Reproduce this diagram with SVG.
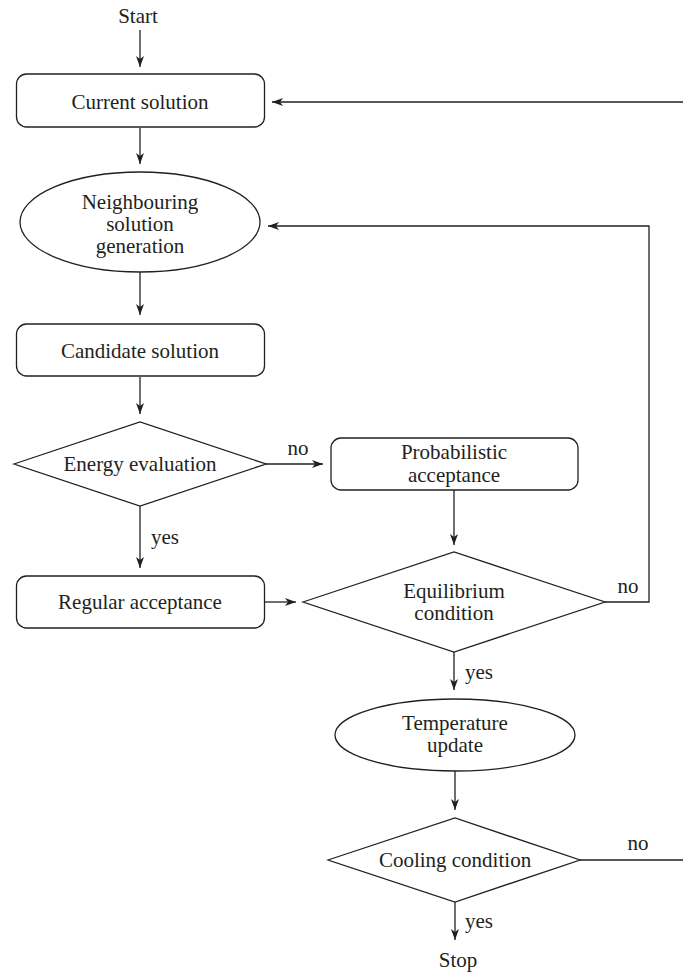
<svg xmlns="http://www.w3.org/2000/svg" width="683" height="974" viewBox="0 0 683 974">
<defs>
<marker id="ah" markerUnits="userSpaceOnUse" markerWidth="11" markerHeight="9" refX="11" refY="4.5" orient="auto">
<path d="M0,0.5 L11,4.5 L0,8.5 L3,4.5 z" fill="#231f20"/>
</marker>
</defs>
<style>
text{font-family:"Liberation Serif","Times New Roman",serif;font-size:21px;fill:#231f20;text-anchor:middle}
.s{fill:#fff;stroke:#231f20;stroke-width:1.3}
.c{fill:none;stroke:#231f20;stroke-width:1.3}
.a{marker-end:url(#ah)}
</style>
<rect width="683" height="974" fill="#fff"/>
<g id="start"><text x="138" y="23">Start</text></g>
<g id="current"><rect class="s" x="16.5" y="74" width="248" height="53" rx="10"/><text x="140" y="109">Current solution</text></g>
<g id="neighbouring"><ellipse class="s" cx="140" cy="222" rx="120" ry="50"/><text x="140" y="209">Neighbouring</text><text x="140" y="231">solution</text><text x="140" y="253">generation</text></g>
<g id="candidate"><rect class="s" x="16.5" y="324" width="248" height="52" rx="10"/><text x="140" y="358">Candidate solution</text></g>
<g id="energy"><polygon class="s" points="14,464 140,422 266,464 140,506"/><text x="140" y="471">Energy evaluation</text></g>
<g id="probabilistic"><rect class="s" x="331" y="438" width="247" height="52" rx="10"/><text x="454" y="459">Probabilistic</text><text x="454" y="482">acceptance</text></g>
<g id="regular"><rect class="s" x="16.5" y="576" width="248" height="52" rx="10"/><text x="140" y="609">Regular acceptance</text></g>
<g id="equilibrium"><polygon class="s" points="303,602 454,552 605,602 454,652"/><text x="454" y="598">Equilibrium</text><text x="454" y="620">condition</text></g>
<g id="temperature"><ellipse class="s" cx="455" cy="735" rx="120" ry="36"/><text x="455" y="730">Temperature</text><text x="455" y="752">update</text></g>
<g id="cooling"><polygon class="s" points="328,860 455,818 580,860 455,902"/><text x="455" y="867">Cooling condition</text></g>
<g id="stop"><text x="458" y="967">Stop</text></g>
<g id="connectors">
<line class="c a" x1="140" y1="30" x2="140" y2="67"/>
<line class="c a" x1="683" y1="102" x2="272" y2="102"/>
<line class="c a" x1="140" y1="128" x2="140" y2="164"/>
<polyline class="c a" points="605,602 649,602 649,226 268,226"/>
<line class="c a" x1="140" y1="272" x2="140" y2="315"/>
<line class="c a" x1="140" y1="377" x2="140" y2="414"/>
<line class="c a" x1="266" y1="464" x2="323" y2="464"/>
<line class="c a" x1="454" y1="490" x2="454" y2="545"/>
<line class="c a" x1="140" y1="506" x2="140" y2="568"/>
<line class="c a" x1="265" y1="602" x2="296" y2="602"/>
<line class="c a" x1="454" y1="652" x2="454" y2="690"/>
<line class="c a" x1="455" y1="771" x2="455" y2="810"/>
<line class="c" x1="580" y1="860" x2="683" y2="860"/>
<line class="c a" x1="455" y1="902" x2="455" y2="940"/>
<text x="298" y="455">no</text>
<text x="165" y="544">yes</text>
<text x="628" y="593">no</text>
<text x="479" y="679">yes</text>
<text x="638" y="850">no</text>
<text x="479" y="928">yes</text>
</g>
</svg>
